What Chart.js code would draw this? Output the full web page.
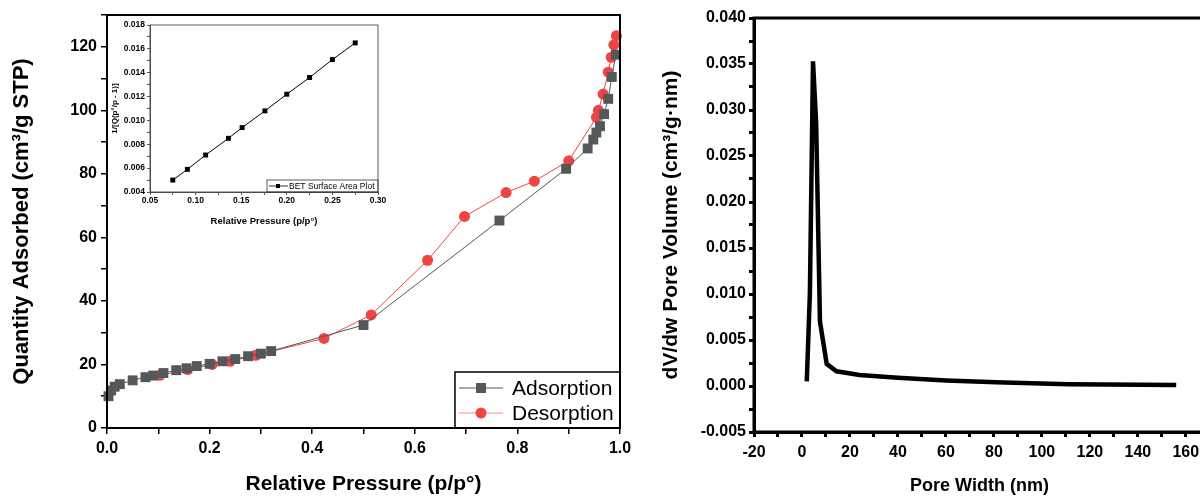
<!DOCTYPE html>
<html>
<head>
<meta charset="utf-8">
<script src="https://cdn.jsdelivr.net/npm/chart.js@4.4.0/dist/chart.umd.min.js"></script>
<style>
  html, body { margin: 0; padding: 0; background: #fff; overflow: hidden; width: 1200px; height: 497px; }
  canvas { position: absolute; }
  #left { left: 0; top: 0; }
  #inset { left: 108px; top: 17px; }
  #right { left: 640px; top: 0; }
</style>
</head>
<body>
<canvas id="left" width="640" height="497"></canvas>
<canvas id="inset" width="280" height="210"></canvas>
<canvas id="right" width="600" height="497"></canvas>
<script>
// isotherm - adsorption branch
var adsP = [0.003, 0.008, 0.015, 0.025, 0.05, 0.075, 0.09, 0.11, 0.135, 0.155, 0.175, 0.2, 0.225, 0.25, 0.275, 0.3, 0.32, 0.5, 0.765, 0.895, 0.937, 0.948, 0.954, 0.961, 0.969, 0.977, 0.984, 0.992];
var adsQ = [10.0, 11.8, 13.0, 13.8, 15.0, 16.0, 16.5, 17.3, 18.2, 18.8, 19.5, 20.2, 21.0, 21.7, 22.6, 23.4, 24.2, 32.4, 65.3, 81.6, 88.0, 90.8, 93.0, 95.0, 98.8, 103.6, 110.5, 117.5];
// isotherm - desorption branch
var desP = [0.993, 0.988, 0.983, 0.977, 0.967, 0.958, 0.954, 0.9, 0.833, 0.778, 0.697, 0.625, 0.515, 0.423, 0.29, 0.24, 0.205, 0.157, 0.103];
var desQ = [123.5, 120.6, 116.7, 112.0, 105.1, 100.0, 97.8, 84.1, 77.7, 74.1, 66.6, 52.8, 35.6, 28.2, 22.9, 21.0, 20.0, 18.4, 16.6];
// BET inset
var betP = [0.075, 0.091, 0.111, 0.136, 0.151, 0.176, 0.2, 0.225, 0.25, 0.275];
var betY = [0.0050, 0.0059, 0.0071, 0.0085, 0.0094, 0.0108, 0.0122, 0.0136, 0.0151, 0.0165];
// pore size distribution
var poreW = [2.0, 3.3, 4.6, 5.9, 7.5, 10.3, 14.4, 24, 40, 60, 81, 111, 156];
var poreV = [0.0005, 0.0101, 0.0353, 0.0286, 0.0070, 0.0024, 0.0016, 0.0012, 0.0009, 0.0006, 0.0004, 0.0002, 0.0001];

var legendNames = ['Adsorption', 'Desorption'];
var betName = 'BET Surface Area Plot';

var greyCol = '#54585a';
var redCol = '#ef4444';

Chart.defaults.font.family = "'Liberation Sans', Arial, Helvetica, sans-serif";
Chart.defaults.color = '#000';

function pts(xs, ys) {
    return xs.map(function(x, i) { return { x: x, y: ys[i] }; });
}

function frame(w, col) {
    return {
        id: 'frame',
        afterDraw: function(chart) {
            var a = chart.chartArea, c = chart.ctx;
            c.save();
            c.lineWidth = w;
            c.strokeStyle = col || '#000';
            c.strokeRect(a.left, a.top, a.right - a.left, a.bottom - a.top);
            c.restore();
        }
    };
}

function axisStyle(w, len, col) {
    col = col || '#000';
    return {
        border: { display: true, color: col, width: w },
        grid: { drawOnChartArea: false, drawTicks: true, tickLength: len, color: col, lineWidth: w }
    };
}

// legend inside the isotherm plot
var isoLegend = {
    id: 'isoLegend',
    afterDatasetsDraw: function(chart) {
        var a = chart.chartArea, c = chart.ctx;
        var lx = 455, ly = 372;
        c.save();
        c.fillStyle = '#fff';
        c.fillRect(lx, ly, a.right - lx, a.bottom - ly);
        c.lineWidth = 1.5;
        c.strokeStyle = '#000';
        c.strokeRect(lx, ly, a.right - lx, a.bottom - ly);
        c.font = "21px 'Liberation Sans', Arial, sans-serif";
        c.textBaseline = 'middle';
        var rows = [ly + 16, ly + 41];
        // adsorption
        c.strokeStyle = greyCol; c.lineWidth = 1;
        c.beginPath(); c.moveTo(lx + 4, rows[0]); c.lineTo(lx + 48, rows[0]); c.stroke();
        c.fillStyle = greyCol;
        c.fillRect(lx + 21, rows[0] - 5, 10, 10);
        // desorption
        c.strokeStyle = '#f58a8a';
        c.beginPath(); c.moveTo(lx + 4, rows[1]); c.lineTo(lx + 48, rows[1]); c.stroke();
        c.fillStyle = redCol;
        c.beginPath(); c.arc(lx + 26, rows[1], 5.5, 0, Math.PI * 2); c.fill();
        c.fillStyle = '#000';
        c.fillText(legendNames[0], lx + 57, rows[0] + 1);
        c.fillText(legendNames[1], lx + 57, rows[1] + 1);
        c.restore();
    }
};

new Chart(document.getElementById('left'), {
    type: 'scatter',
    data: {
        datasets: [{
            label: legendNames[0],
            data: pts(adsP, adsQ),
            showLine: true,
            borderColor: greyCol,
            borderWidth: 1,
            backgroundColor: greyCol,
            pointStyle: 'rect',
            pointRadius: 7,
            pointBorderWidth: 0,
            clip: false
        }, {
            label: legendNames[1],
            data: pts(desP, desQ),
            showLine: true,
            borderColor: redCol,
            borderWidth: 1,
            backgroundColor: redCol,
            pointStyle: 'circle',
            pointRadius: 5.5,
            pointBorderWidth: 0,
            clip: false
        }]
    },
    options: {
        responsive: false,
        animation: false,
        events: [],
        layout: { padding: { top: 15, right: 20, left: 0, bottom: 0 } },
        plugins: { legend: { display: false }, tooltip: { enabled: false } },
        scales: {
            x: Object.assign(axisStyle(1.5, 6), {
                type: 'linear', min: 0, max: 1,
                afterFit: function(s) { s.height = 69; },
                title: { display: true, text: 'Relative Pressure (p/p°)', font: { size: 21, weight: 'bold' }, padding: { top: 12, bottom: 0 } },
                ticks: {
                    stepSize: 0.1, autoSkip: false, maxRotation: 0, padding: 5,
                    font: { size: 16, weight: 'bold' },
                    callback: function(v) { var k = Math.round(v * 10); return k % 2 === 0 ? (k / 10).toFixed(1) : ''; }
                }
            }),
            y: Object.assign(axisStyle(1.5, 6), {
                type: 'linear', min: 0, max: 130,
                afterFit: function(s) { s.width = 107; },
                title: { display: true, text: 'Quantity Adsorbed (cm³/g STP)', font: { size: 22, weight: 'bold' }, padding: { top: 9, bottom: 0 } },
                ticks: {
                    stepSize: 10, autoSkip: false, padding: 4,
                    font: { size: 16, weight: 'bold' },
                    callback: function(v) { return v % 20 === 0 ? v : ''; }
                }
            })
        }
    },
    plugins: [isoLegend, frame(2)]
});

// BET inset legend
var betLegend = {
    id: 'betLegend',
    afterDatasetsDraw: function(chart) {
        var a = chart.chartArea, c = chart.ctx;
        var lw = 111, lh = 12;
        var lx = a.right - lw, ly = a.bottom - lh;
        c.save();
        c.fillStyle = '#fff';
        c.fillRect(lx, ly, lw, lh);
        c.strokeStyle = '#333'; c.lineWidth = 0.8;
        c.strokeRect(lx, ly, lw, lh);
        c.strokeStyle = '#000';
        c.beginPath(); c.moveTo(lx + 2, ly + 6); c.lineTo(lx + 21, ly + 6); c.stroke();
        c.fillStyle = '#000';
        c.fillRect(lx + 9, ly + 4, 4, 4);
        c.font = "8.5px 'Liberation Sans', Arial, sans-serif";
        c.textBaseline = 'middle';
        c.fillText(betName, lx + 22, ly + 6.5);
        c.restore();
    }
};

new Chart(document.getElementById('inset'), {
    type: 'scatter',
    data: {
        datasets: [{
            label: betName,
            data: pts(betP, betY),
            showLine: true,
            borderColor: '#000',
            borderWidth: 1,
            backgroundColor: '#000',
            pointStyle: 'rect',
            pointRadius: 3.5,
            pointBorderWidth: 0
        }]
    },
    options: {
        responsive: false,
        animation: false,
        events: [],
        layout: { padding: { top: 8, right: 10, left: 0, bottom: 0 } },
        plugins: { legend: { display: false }, tooltip: { enabled: false } },
        scales: {
            x: Object.assign(axisStyle(0.8, 3, '#333'), {
                type: 'linear', min: 0.05, max: 0.30,
                afterFit: function(s) { s.height = 35; },
                title: { display: true, text: 'Relative Pressure (p/p°)', font: { size: 9.5, weight: 'bold' }, padding: { top: 1, bottom: 0 } },
                ticks: {
                    stepSize: 0.025, autoSkip: false, maxRotation: 0, padding: 1,
                    font: { size: 8.5, weight: 'bold' },
                    callback: function(v) { var k = Math.round(v / 0.025); return k % 2 === 0 ? (k * 0.025).toFixed(2) : ''; }
                }
            }),
            y: Object.assign(axisStyle(0.8, 3, '#333'), {
                type: 'linear', min: 0.004, max: 0.018,
                afterFit: function(s) { s.width = 42; },
                title: { display: true, text: '1/[Q(p°/p - 1)]', font: { size: 8, weight: 'bold' }, padding: { top: 2, bottom: 0 } },
                ticks: {
                    stepSize: 0.001, autoSkip: false, padding: 2,
                    font: { size: 8.5, weight: 'bold' },
                    callback: function(v) { var k = Math.round(v / 0.001); return k % 2 === 0 ? (k * 0.001).toFixed(3) : ''; }
                }
            })
        }
    },
    plugins: [betLegend, frame(0.8, '#333')]
});

new Chart(document.getElementById('right'), {
    type: 'scatter',
    data: {
        datasets: [{
            label: 'dV/dw',
            data: pts(poreW, poreV),
            showLine: true,
            borderColor: '#000',
            borderWidth: 4.5,
            pointRadius: 0,
            borderJoinStyle: 'miter'
        }]
    },
    options: {
        responsive: false,
        animation: false,
        events: [],
        layout: { padding: { top: 18, right: 35, left: 0, bottom: 0 } },
        plugins: { legend: { display: false }, tooltip: { enabled: false } },
        scales: {
            x: Object.assign(axisStyle(3, 5), {
                type: 'linear', min: -20, max: 168,
                afterFit: function(s) { s.height = 65; },
                // keep only the 10 nm steps inside the range
                afterBuildTicks: function(s) {
                    var t = [];
                    for (var v = -20; v <= s.max; v += 10) t.push({ value: v });
                    s.ticks = t;
                },
                title: { display: true, text: 'Pore Width (nm)', font: { size: 18, weight: 'bold' }, padding: { top: 10, bottom: 0 } },
                ticks: {
                    stepSize: 10, autoSkip: false, maxRotation: 0, padding: 6,
                    font: { size: 16, weight: 'bold' },
                    callback: function(v) { return v % 20 === 0 ? v : ''; }
                }
            }),
            y: Object.assign(axisStyle(3, 5), {
                type: 'linear', min: -0.005, max: 0.040,
                afterFit: function(s) { s.width = 114; },
                title: { display: true, text: 'dV/dw Pore Volume (cm³/g·nm)', font: { size: 21, weight: 'bold' }, padding: { top: 19, bottom: 0 } },
                ticks: {
                    stepSize: 0.0025, autoSkip: false, padding: 3,
                    font: { size: 16, weight: 'bold' },
                    callback: function(v) { var k = Math.round(v / 0.0025); return k % 2 === 0 ? (k * 0.0025).toFixed(3) : ''; }
                }
            })
        }
    },
    plugins: [frame(3)]
});
</script>
</body>
</html>
